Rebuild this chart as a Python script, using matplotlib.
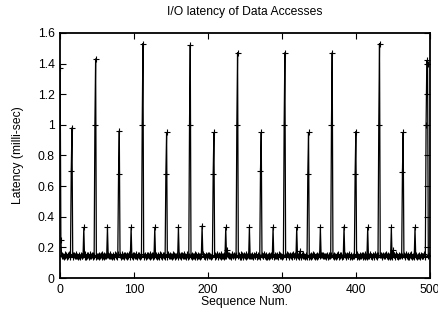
import numpy as np
import matplotlib
matplotlib.use('Agg')
import matplotlib.pyplot as plt

plt.rcParams['font.family'] = ['Liberation Sans', 'DejaVu Sans']

# baseline latency, in micro-sec (thousandths of ms), 16 per row
baseline_us = [
    150, 146, 141, 152, 147, 139, 155, 143, 149, 137, 151, 145, 158, 140, 147, 144,
    142, 153, 138, 149, 145, 156, 141, 147, 136, 150, 144, 139, 152, 146, 141, 148,
    145, 140, 154, 137, 149, 143, 151, 138, 146, 157, 142, 148, 135, 150, 144, 141,
    153, 139, 147, 144, 136, 152, 145, 149, 140, 155, 143, 138, 151, 146, 142, 150,
    137, 148, 143, 156, 141, 147, 139, 152, 145, 136, 154, 144, 149, 140, 158, 146,
    143, 151, 138, 147, 155, 142, 149, 136, 153, 145, 140, 148, 144, 157, 139, 150,
    146, 141, 152, 139, 148, 144, 156, 143, 137, 151, 145, 149, 138, 154, 142, 147,
    155, 140, 146, 150, 137, 153, 142, 148, 145, 139, 156, 143, 151, 136, 149, 144,
    141, 149, 145, 138, 152, 146, 140, 155, 143, 148, 137, 153, 144, 150, 139, 147,
    148, 136, 154, 143, 149, 141, 147, 139, 156, 144, 151, 138, 146, 142, 153, 140,
    139, 152, 144, 148, 135, 150, 143, 157, 141, 146, 140, 149, 155, 137, 145, 151,
    150, 145, 139, 153, 146, 142, 155, 140, 148, 136, 152, 144, 147, 139, 156, 143,
    144, 157, 142, 147, 140, 151, 138, 146, 153, 143, 149, 141, 136, 150, 145, 148,
    152, 138, 149, 144, 155, 139, 146, 150, 142, 137, 154, 147, 141, 153, 140, 146,
    140, 147, 136, 151, 145, 149, 143, 138, 156, 148, 142, 150, 145, 139, 152, 144,
    147, 143, 152, 140, 137, 154, 148, 145, 139, 151, 146, 136, 155, 143, 149, 141,
    156, 141, 145, 149, 143, 138, 152, 141, 147, 155, 140, 146, 150, 144, 137, 153,
    138, 150, 146, 142, 157, 145, 140, 148, 136, 144, 152, 139, 147, 153, 141, 145,
    145, 139, 153, 147, 141, 150, 146, 137, 154, 142, 148, 143, 138, 151, 146, 140,
    151, 144, 140, 155, 148, 136, 143, 152, 145, 149, 139, 156, 142, 146, 150, 137,
    143, 153, 147, 139, 145, 151, 137, 149, 141, 156, 144, 140, 153, 145, 138, 148,
    149, 137, 143, 152, 140, 146, 155, 142, 150, 138, 147, 151, 139, 144, 154, 141,
    136, 148, 151, 145, 153, 141, 147, 139, 144, 152, 136, 149, 146, 141, 148, 155,
    154, 142, 139, 148, 144, 137, 151, 145, 156, 140, 149, 143, 152, 138, 145, 147,
    141, 151, 145, 136, 150, 147, 142, 154, 139, 146, 153, 137, 144, 150, 141, 149,
    147, 138, 156, 143, 139, 152, 145, 141, 148, 137, 151, 146, 140, 155, 143, 139,
    150, 145, 141, 154, 147, 143, 138, 152, 146, 140, 157, 144, 149, 136, 151, 145,
    139, 153, 148, 142, 136, 150, 144, 149, 141, 155, 143, 138, 152, 147, 140, 146,
    153, 140, 144, 151, 148, 139, 157, 143, 147, 136, 150, 145, 141, 153, 146, 142,
    144, 149, 137, 146, 155, 142, 140, 151, 138, 148, 144, 156, 139, 145, 152, 140,
    148, 143, 152, 138, 145, 150, 146, 137, 153, 141, 147, 142, 155, 144, 139, 151,
    142, 156, 146, 149, 141, 145, 153, 140, 147, 144, 138, 152, 146, 150, 143, 148,
]

# spikes: sequence number -> latency (ms)
spike_seq = [0, 1,
             15, 16, 32, 47, 48, 64, 79, 80, 96, 111, 112, 128, 143, 144, 160,
             175, 176, 192, 207, 208, 224, 226, 239, 240, 256, 271, 272, 288,
             303, 304, 320, 324, 335, 336, 352, 367, 368, 384, 399, 400, 416,
             431, 432, 448, 450, 463, 464, 480, 495, 496, 497]
spike_ms = [1.37, 0.25,
            0.70, 0.98, 0.33, 1.00, 1.43, 0.33, 0.68, 0.96, 0.33, 1.00, 1.53, 0.33, 0.68, 0.95, 0.33,
            1.00, 1.52, 0.34, 0.68, 0.95, 0.33, 0.185, 1.00, 1.47, 0.33, 0.70, 0.95, 0.33,
            1.00, 1.47, 0.33, 0.175, 0.68, 0.95, 0.33, 1.00, 1.47, 0.335, 0.68, 0.955, 0.33,
            1.00, 1.53, 0.33, 0.18, 0.69, 0.95, 0.33, 1.00, 1.42, 1.40]

n_points = 500
seq = np.arange(n_points)
latency = np.array(baseline_us[:n_points]) / 1000.0
latency[spike_seq] = spike_ms

fig = plt.figure(figsize=(4.39, 3.10), dpi=100)
ax = fig.add_axes([0.137, 0.103, 0.842, 0.791])

ax.plot(seq, latency, color='black', linewidth=0.9, marker='+',
        markersize=4, markeredgewidth=0.8)

ax.set_xlim(0, 500)
ax.set_ylim(0, 1.6)
ax.set_xticks([0, 100, 200, 300, 400, 500])
yticks = [0, 0.2, 0.4, 0.6, 0.8, 1.0, 1.2, 1.4, 1.6]
ax.set_yticks(yticks)
ax.set_yticklabels(['0', '0.2', '0.4', '0.6', '0.8', '1', '1.2', '1.4', '1.6'])

ax.tick_params(direction='in', length=4, width=0.8, top=True, right=True,
               labelsize=8.7, pad=4, colors='black')
for s in ax.spines.values():
    s.set_linewidth(1.3)
    s.set_color('black')

ax.set_title('I/O latency of Data Accesses', fontsize=8.7, pad=13)
ax.set_xlabel('Sequence Num.', fontsize=8.7, labelpad=0.5)
ax.set_ylabel('Latency (milli-sec)', fontsize=8.7, labelpad=10)

fig.savefig('out.png', dpi=100)
